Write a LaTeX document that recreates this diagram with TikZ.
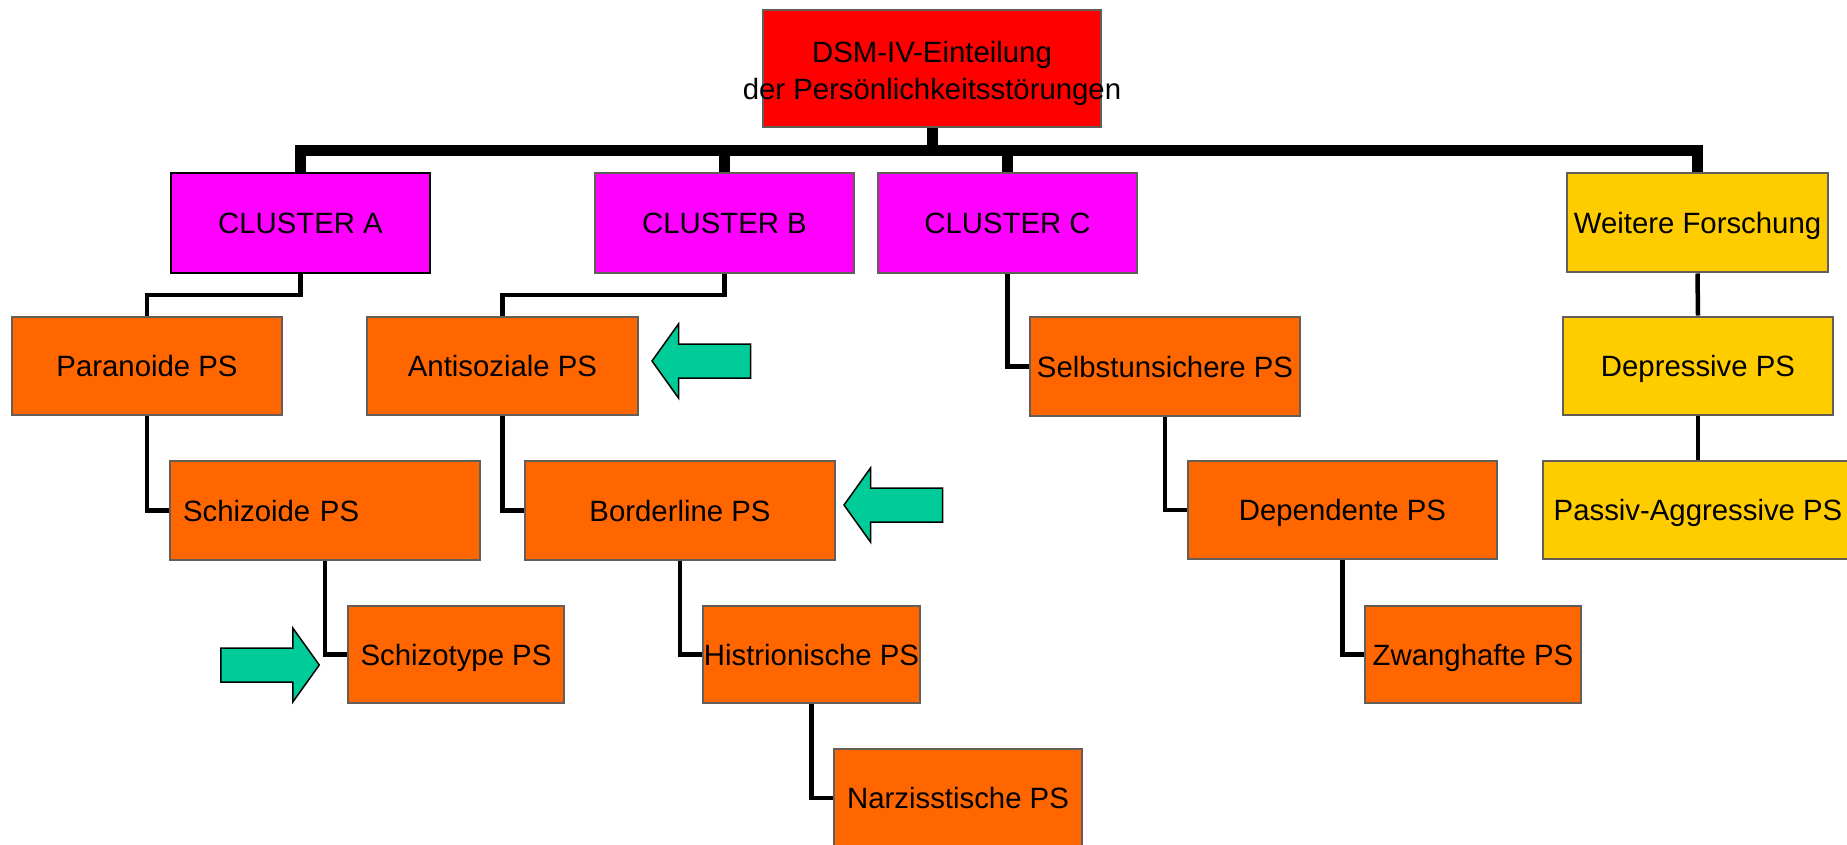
\documentclass[tikz,border=0pt]{standalone}
\usepackage{fontspec}
\setmainfont{Liberation Sans}
\definecolor{rim}{HTML}{645E58}
\definecolor{topred}{HTML}{FF0000}
\definecolor{clmag}{HTML}{FF00FF}
\definecolor{psorange}{HTML}{FF6600}
\definecolor{psyellow}{HTML}{FFCC00}
\definecolor{hintgreen}{HTML}{00CC99}
\tikzset{
  box/.style={
    draw = rim,
    line width = 0.04cm,
    inner sep = 0,
    shape = rectangle,
    text height = 11.96pt,
    text depth = 0pt,
    font = \fontsize{16.7}{20.8}\selectfont
  },
  topbox/.style={
    box,
    fill = topred,
    minimum width = 6.76cm,
    minimum height = 2.36cm
  },
  clusterbox/.style={
    box,
    fill = clmag,
    minimum width = 5.18cm,
    minimum height = 2.0cm
  },
  psbox/.style={
    box,
    fill = psorange,
    minimum height = 1.98cm
  },
  morebox/.style={
    box,
    fill = psyellow,
    minimum height = 1.98cm
  },
  bus/.style={
    line width = 0.22cm
  },
  link/.style={
    line width = 0.09cm
  },
  arrowline/.style={
    draw = black,
    line width = 0.03cm,
    fill = hintgreen
  },
  greenarrow/.pic={
    \draw[arrowline] (0,0) -- (26.5,-37) -- (26.5,-17) -- (98.5,-17)
      -- (98.5,17) -- (26.5,17) -- (26.5,37) -- cycle;
  }
}
\begin{document}
\begin{tikzpicture}[x=0.02cm, y=-0.02cm]
  \useasboundingbox (0,0) rectangle (1847,845);

  \node[topbox, label={[align=center, yshift=-0.1cm, font=\fontsize{16.7}{20.8}\selectfont]center:{DSM-IV-Einteilung\\der Persönlichkeitsstörungen}}] (dsm) at (932,68.5) {};

  \node[clusterbox, draw=black] (clA) at (300.5,223) {CLUSTER A};
  \node[clusterbox] (clB) at (724.5,223) {CLUSTER B};
  \node[clusterbox] (clC) at (1007.5,223) {CLUSTER C};
  \node[morebox, minimum width=5.22cm, minimum height=2.0cm] (weit) at (1697.5,222.5) {Weitere Forschung};

  \draw[bus] (dsm.south) -- ++(0,22) coordinate (hub);
  \foreach \c in {clA,clB,clC,weit}{
      \draw[bus] (\c.north) |- (hub);
  }

  \node[psbox, minimum width=5.4cm] (para) at (147,366) {Paranoide PS};
  \node[psbox, minimum width=5.42cm] (anti) at (502.5,366) {Antisoziale PS};
  \node[psbox, minimum width=5.4cm] (selbst) at (1165,366.5) {Selbstunsichere PS};
  \node[morebox, minimum width=5.4cm] (depr) at (1698,366) {Depressive PS};

  \node[psbox, minimum width=6.2cm, text width=5.68cm, inner xsep=0.26cm, align=left] (schizoid) at (325,510.5) {Schizoide PS};
  \node[psbox, minimum width=6.2cm] (border) at (680,510.5) {Borderline PS};
  \node[psbox, minimum width=6.18cm] (depend) at (1342.5,510) {Dependente PS};
  \node[morebox, minimum width=6.2cm] (passiv) at (1698,510) {Passiv-Aggressive PS};

  \node[psbox, minimum width=4.32cm, minimum height=1.96cm] (schizotyp) at (456,654.5) {Schizotype PS};
  \node[psbox, minimum width=4.34cm, minimum height=1.96cm] (histrio) at (811.5,654.5) {Histrionische PS};
  \node[psbox, minimum width=4.32cm, minimum height=1.96cm] (zwang) at (1473,654.5) {Zwanghafte PS};

  \node[psbox, minimum width=4.96cm, minimum height=1.96cm] (narz) at (958,798) {Narzisstische PS};

  \draw[link] (clA.south) -- ++(0,21) -| (para.north);
  \draw[link] (clB.south) -- ++(0,21) -| (anti.north);
  \draw[link] (clC.south) |- (selbst.west);
  \draw[link] (weit.south) -- (depr.north);
  \draw[link] (depr.south) -- (passiv.north);
  \draw[link] (para.south) |- (schizoid.west);
  \draw[link] (anti.south) |- (border.west);
  \draw[link] (selbst.south) |- (depend.west);
  \draw[link] (schizoid.south) |- (schizotyp.west);
  \draw[link] (border.south) |- (histrio.west);
  \draw[link] (depend.south) |- (zwang.west);
  \draw[link] (histrio.south) |- (narz.west);

  \pic at (652,361) {greenarrow};
  \pic at (844,505) {greenarrow};
  \pic[rotate=180] at (319.3,665) {greenarrow};
\end{tikzpicture}
\end{document}
